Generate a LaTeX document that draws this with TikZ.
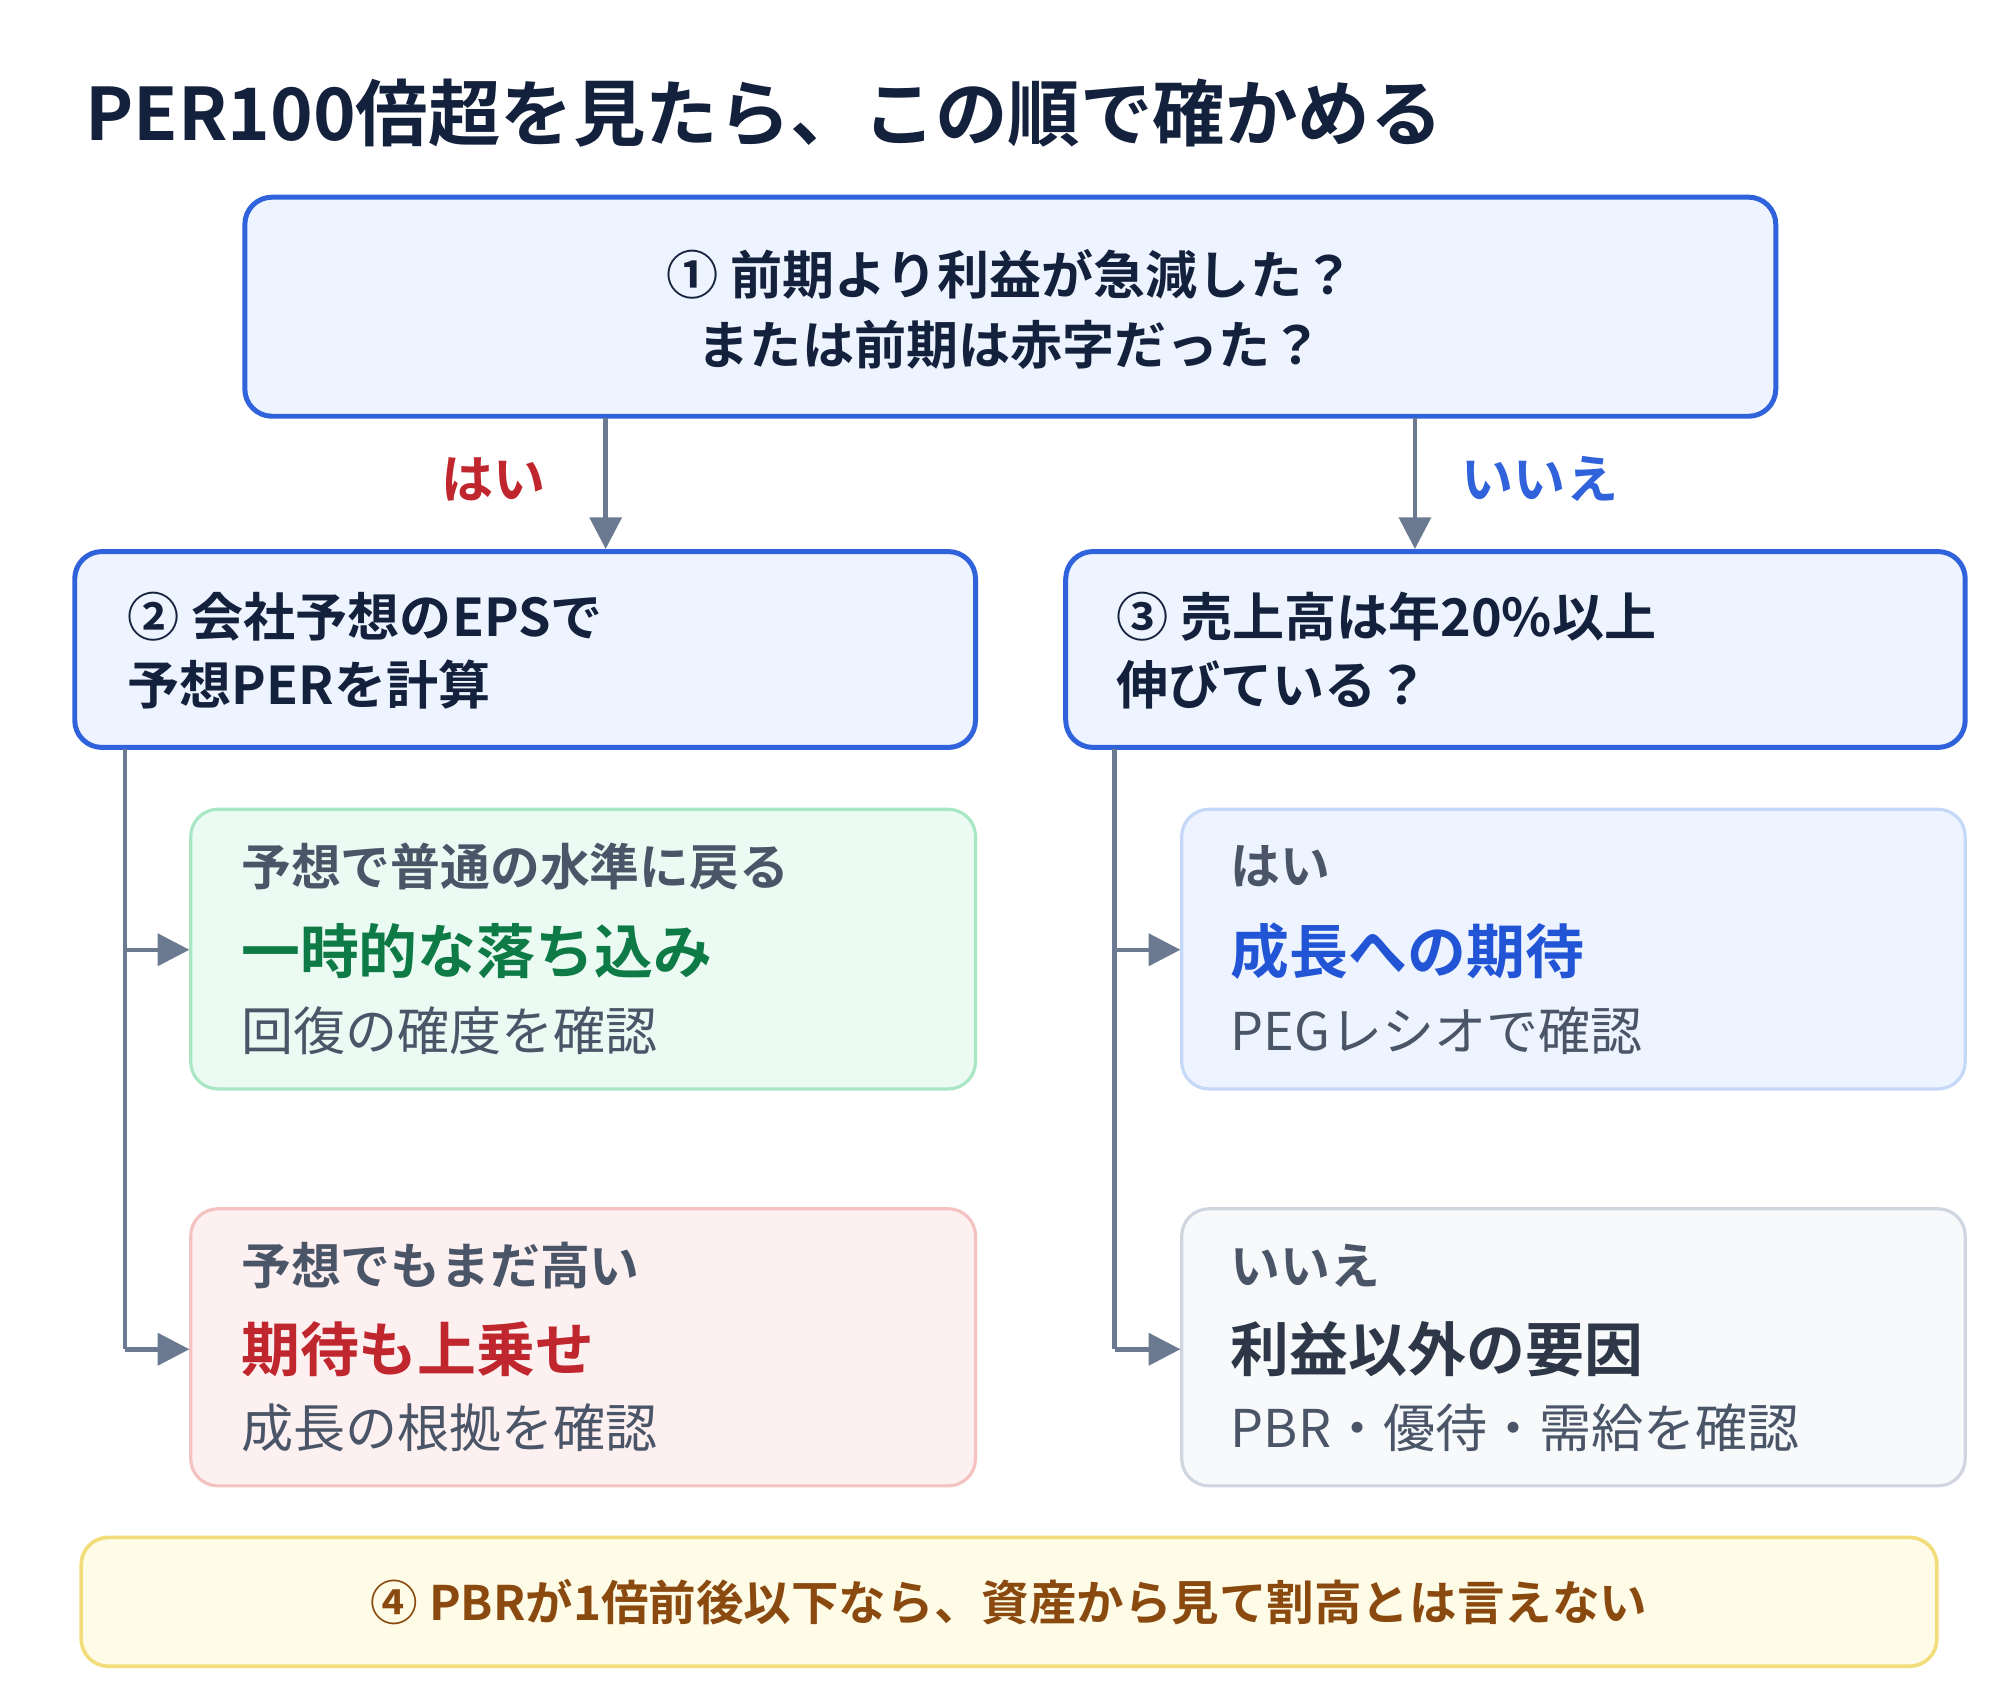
\documentclass[tikz,border=0pt]{standalone}
\usepackage{fontspec}
\setmainfont{Noto Sans CJK JP}
\newfontfamily\jpb{Noto Sans CJK JP Bold}
\newfontfamily\jpr{Noto Sans CJK JP}
\usetikzlibrary{arrows.meta}
\definecolor{bluebd}{HTML}{2F62DB}
\definecolor{bluefill}{HTML}{EEF4FF}
\definecolor{conn}{HTML}{6B7A90}
\definecolor{txt}{HTML}{4A5568}
\definecolor{dark}{HTML}{14213D}
\definecolor{yesred}{HTML}{C0262D}
\tikzset{
 big/.style={draw=bluebd,line width=2.2pt,fill=bluefill,rounded corners=12pt},
 sub/.style={line width=1.4pt,rounded corners=12pt},
 conn/.style={draw=conn,line width=2pt,-{Triangle[length=14pt,width=14pt]}},
 l1/.style={anchor=west,font=\jpb\fontsize{22}{26}\selectfont,text=txt},
 l2/.style={anchor=west,font=\jpb\fontsize{26}{30}\selectfont},
 l3/.style={anchor=west,font=\jpr\fontsize{23}{27}\selectfont,text=txt},
 btxt/.style={font=\jpb\fontsize{23}{27}\selectfont,text=dark,align=left,anchor=west}
}
\begin{document}
\begin{tikzpicture}[x=0.02cm,y=-0.02cm]
\useasboundingbox[fill=white] (0,0) rectangle (1552,1320);
\node[anchor=west,font=\jpb\fontsize{32}{36}\selectfont,text=dark] (title) at (60,88) {PER100倍超を見たら、この順で確かめる};
% box1
\draw[big] (190,153) rectangle (1378,323);
\node[font=\jpb\fontsize{23}{27}\selectfont,text=dark,align=center] (t1) at (784,240) {① 前期より利益が急減した？\\[4pt]または前期は赤字だった？};
\coordinate (a1s) at (470,324); \coordinate (a1e) at (470,426);
\coordinate (a2s) at (1098,324); \coordinate (a2e) at (1098,426);
\draw[conn] (a1s) -- (a1e);
\draw[conn] (a2s) -- (a2e);
\node[font=\jpb\fontsize{23}{27}\selectfont,text=yesred] (yes) at (383,372) {はい};
\node[font=\jpb\fontsize{23}{27}\selectfont,text=bluebd] (no) at (1195,372) {いいえ};
% box2, box3
\draw[big] (58,428) rectangle (757,580);
\node[btxt] (t2) at (93,505) {② 会社予想のEPSで\\[3pt]予想PERを計算};
\draw[big] (827,428) rectangle (1525,580);
\node[btxt] (t3) at (860,505) {③ 売上高は年20\%以上\\[3pt]伸びている？};
% sub boxes
\draw[sub,draw={rgb,255:red,168;green,230;blue,196},fill={rgb,255:red,235;green,251;blue,243}] (148,628) rectangle (757,845);
\draw[sub,draw={rgb,255:red,245;green,194;blue,194},fill={rgb,255:red,253;green,240;blue,240}] (148,938) rectangle (757,1153);
\draw[sub,draw={rgb,255:red,197;green,216;blue,247},fill=bluefill] (917,628) rectangle (1525,845);
\draw[sub,draw={rgb,255:red,208;green,214;blue,223},fill={rgb,255:red,247;green,249;blue,251}] (917,938) rectangle (1525,1153);
% connectors
\coordinate (lt) at (97,581); \coordinate (lb) at (97,1047); \coordinate (lm) at (97,737);
\coordinate (g) at (147,737); \coordinate (r) at (147,1047);
\draw[draw=conn,line width=2pt] (lt) -- (lb);
\draw[conn] (lm) -- (g);
\draw[conn] (lb) -- (r);
\coordinate (rt) at (865,581); \coordinate (rb) at (865,1047); \coordinate (rm) at (865,737);
\coordinate (bb) at (916,737); \coordinate (gb) at (916,1047);
\draw[draw=conn,line width=2pt] (rt) -- (rb);
\draw[conn] (rm) -- (bb);
\draw[conn] (rb) -- (gb);
% texts
\node[l1] (g1) at (181,672) {予想で普通の水準に戻る};
\node[l2,text={rgb,255:red,14;green,122;blue,69}] (g2) at (181,738) {一時的な落ち込み};
\node[l3] (g3) at (181,800) {回復の確度を確認};
\node[l1] (r1) at (181,982) {予想でもまだ高い};
\node[l2,text=yesred] (r2) at (181,1047) {期待も上乗せ};
\node[l3] (r3) at (181,1108) {成長の根拠を確認};
\node[l1] (c1) at (949,672) {はい};
\node[l2,text={rgb,255:red,34;green,85;blue,214}] (c2) at (949,738) {成長への期待};
\node[l3] (c3) at (949,800) {PEGレシオで確認};
\node[l1] (d1) at (949,982) {いいえ};
\node[l2,text={rgb,255:red,45;green,55;blue,72}] (d2) at (949,1047) {利益以外の要因};
\node[l3] (d3) at (949,1108) {PBR・優待・需給を確認};
% bottom
\draw[sub,line width=1.6pt,draw={rgb,255:red,242;green,221;blue,122},fill={rgb,255:red,254;green,251;blue,230}] (63,1193) rectangle (1503,1293);
\node[font=\jpb\fontsize{21}{25}\selectfont,text={rgb,255:red,138;green,74;blue,15}] (bot) at (783,1243) {④ PBRが1倍前後以下なら、資産から見て割高とは言えない};
\end{tikzpicture}
\end{document}
